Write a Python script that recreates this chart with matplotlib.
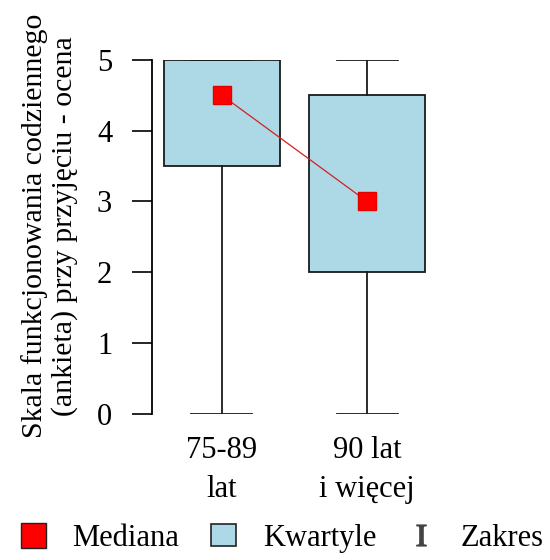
import matplotlib
matplotlib.use("Agg")
import matplotlib.pyplot as plt
from matplotlib.lines import Line2D
from matplotlib.patches import Patch

# values
groups = ["75-89\nlat", "90 lat\ni więcej"]
medians = [4.5, 3.0]
q1 = [3.5, 2.0]
q3 = [5.0, 4.5]
mins = [0.0, 0.0]
maxs = [5.0, 5.0]
yticks = [0, 1, 2, 3, 4, 5]
ylabel = "Skala funkcjonowania codziennego\n(ankieta) przy przyjęciu - ocena"

plt.rcParams["font.family"] = ["Liberation Serif", "DejaVu Serif"]
plt.rcParams["mathtext.fontset"] = "stix"

fig = plt.figure(figsize=(5.5, 5.6), dpi=100)
ax = fig.add_axes([0.276, 0.261, 0.519, 0.632])

stats = []
for i in range(len(groups)):
    stats.append({"med": medians[i], "q1": q1[i], "q3": q3[i],
                  "whislo": mins[i], "whishi": maxs[i], "label": groups[i]})

pos = list(range(1, len(groups) + 1))
ax.bxp(stats, positions=pos, widths=0.8, capwidths=0.42, showfliers=False,
       patch_artist=True,
       boxprops=dict(facecolor="#add8e6", edgecolor="#1a1a1a", linewidth=1.3),
       whiskerprops=dict(color="#1a1a1a", linewidth=1.3),
       capprops=dict(color="#1a1a1a", linewidth=1.3),
       medianprops=dict(linewidth=0))

ax.plot(pos, medians, color="#d42020", linewidth=0.9, zorder=4)
ax.plot(pos, medians, linestyle="none", marker="s", markersize=13,
        markerfacecolor="#ff0000", markeredgecolor="#e00000", zorder=5)

ax.set_xlim(0.517, 2.483)
ax.set_ylim(0, 5)
ax.set_yticks(yticks)
ax.tick_params(axis="y", direction="out", length=14.5, width=1.2,
               labelsize=22, pad=14)
ax.tick_params(axis="x", length=0, labelsize=22, pad=16)
for lab in ax.get_xticklabels():
    lab.set_linespacing(1.45)
for s in ["top", "right", "bottom"]:
    ax.spines[s].set_visible(False)
ax.spines["left"].set_linewidth(1.3)
ax.set_ylabel(ylabel, fontsize=21.5, linespacing=1.15)
ax.yaxis.set_label_coords(-0.26, 0.53)

handles = [
    Line2D([], [], linestyle="none", marker="s", markersize=18,
           markerfacecolor="#ff0000", markeredgecolor="#222222"),
    Patch(facecolor="#add8e6", edgecolor="#222222", linewidth=1.2),
    Line2D([], [], linestyle="none", marker=r"$\mathrm{I}$", markersize=15,
           color="#444444"),
]
fig.legend(handles, ["Mediana", "Kwartyle", "Zakres"], loc="lower center",
           bbox_to_anchor=(0.513, -0.036), ncol=3, frameon=False, fontsize=22,
           columnspacing=1.05, handlelength=0.8, handleheight=0.75,
           handletextpad=0.9)

fig.savefig("out.png", dpi=100, facecolor="white")
